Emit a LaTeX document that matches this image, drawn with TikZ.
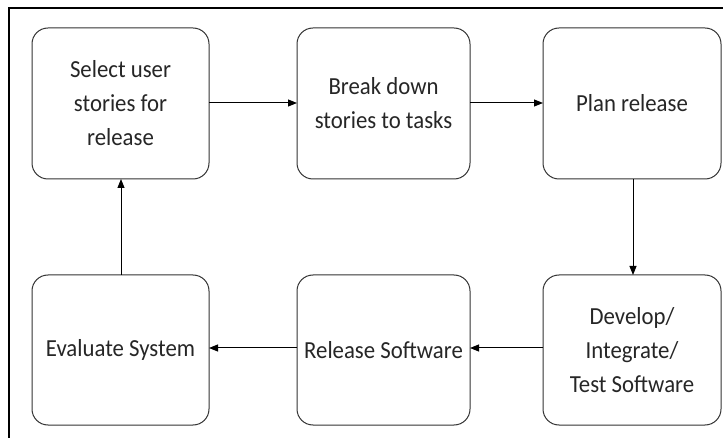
\documentclass[tikz,border=0pt]{standalone}
\usepackage{fontspec}
\setmainfont[FakeStretch=0.93]{Carlito}
\usetikzlibrary{arrows.meta}
\begin{document}
\begin{tikzpicture}[x=1pt,y=-1pt,
  stage/.style={draw=black!80, line width=1pt, rounded corners=16pt, fill=white},
  flow/.style={draw=black, line width=1pt, -{Triangle[length=9pt,width=7pt]}},
  label/.style={font=\fontsize{24.5}{34}\selectfont, align=center, text=black!85}
]
\useasboundingbox (0,0) rectangle (723,438);
\fill[white] (0,0) rectangle (723,438);
\begin{scope}
  \clip (0,0) rectangle (723,438);
  \draw[line width=2pt] (9,8) rectangle (740,460);
\end{scope}

% process stages
\draw[stage] (32,28) rectangle (209,179);
\draw[stage] (297,28) rectangle (470,179);
\draw[stage] (543,28) rectangle (721,179);
\draw[stage] (32,275) rectangle (209,425);
\draw[stage] (297,275) rectangle (470,425);
\draw[stage] (543,275) rectangle (721,425);

\node[label] (sel) at (120.5,103.5) {Select user\\stories for\\release};
\node[label] (brk) at (383.5,103.5) {Break down\\stories to tasks};
\node[label] (pln) at (632,103.5) {Plan release};
\node[label] (eva) at (120.5,350) {Evaluate System};
\node[label] (rel) at (383.5,350) {Release Software};
\node[label] (dev) at (632,350) {Develop/\\Integrate/\\Test Software};

% box edges used as anchors
\coordinate (selE) at (209,103);
\coordinate (brkW) at (297,103);
\coordinate (brkE) at (470,103);
\coordinate (plnW) at (543,103);
\coordinate (plnS) at (633,179);
\coordinate (devN) at (633,275);
\coordinate (devW) at (543,348);
\coordinate (relE) at (470,348);
\coordinate (relW) at (297,348);
\coordinate (evaE) at (209,348);
\coordinate (evaN) at (121,275);
\coordinate (selS) at (121,179);

\draw[flow] (selE) -- (brkW);
\draw[flow] (brkE) -- (plnW);
\draw[flow] (plnS) -- (devN);
\draw[flow] (devW) -- (relE);
\draw[flow] (relW) -- (evaE);
\draw[flow] (evaN) -- (selS);
\end{tikzpicture}
\end{document}
